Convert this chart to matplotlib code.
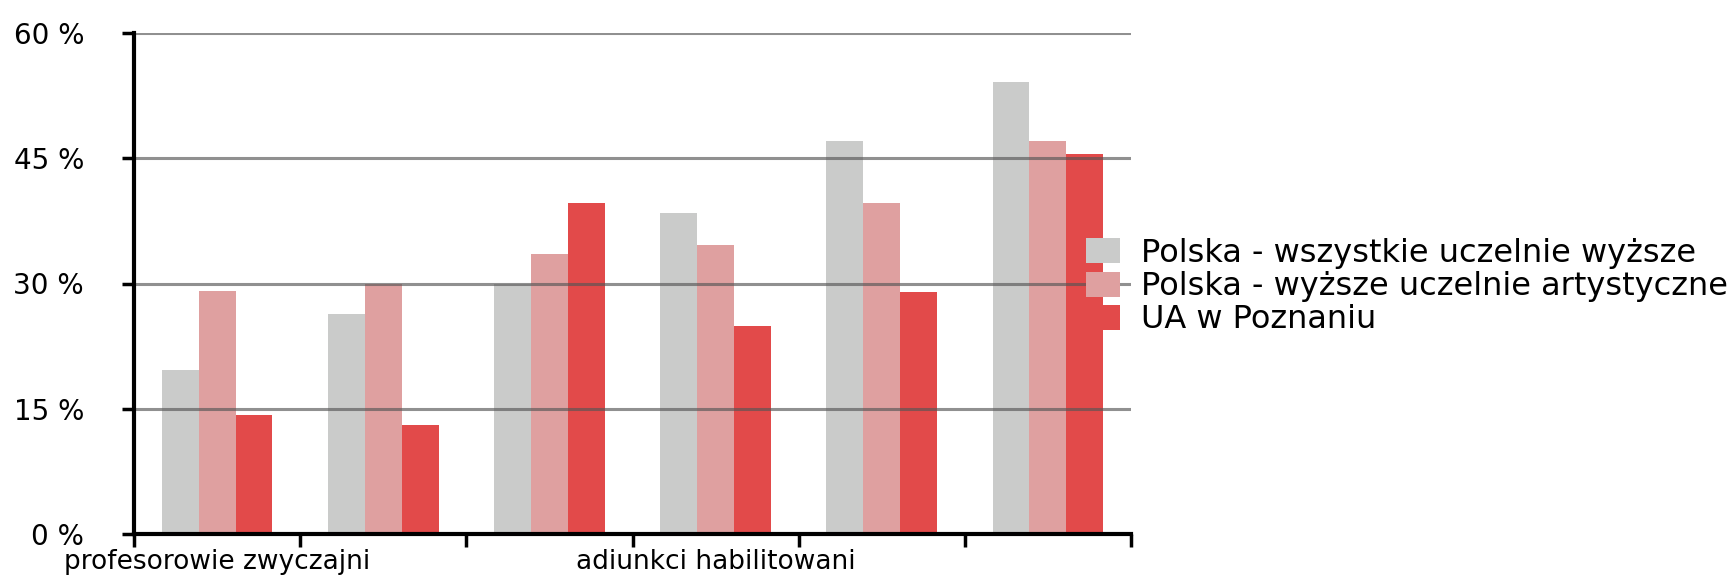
import matplotlib
matplotlib.use("Agg")
import matplotlib.pyplot as plt
import numpy as np

categories = ["profesorowie zwyczajni", "", "", "adiunkci habilitowani", "", ""]
series_names = ["Polska - wszystkie uczelnie wyższe",
                "Polska - wyższe uczelnie artystyczne",
                "UA w Poznaniu"]
polska_all = [19.7, 26.4, 30.0, 38.4, 47.1, 54.1]
polska_art = [29.1, 29.9, 33.5, 34.6, 39.6, 47.1]
ua_poznan = [14.2, 13.1, 39.7, 24.9, 29.0, 45.5]
yticks = [0, 15, 30, 45, 60]
ytick_labels = ["0 %", "15 %", "30 %", "45 %", "60 %"]

colors = ["#cacbca", "#dfa0a0", "#e24a4a"]

W, H = 1735, 582
plt.rcParams['font.family'] = ['DejaVu Sans']
fig = plt.figure(figsize=(W / 100, H / 100), dpi=100)
ax = fig.add_axes([134 / W, 1 - 534 / H, (1131 - 134) / W, (534 - 33) / H])

x = np.arange(len(categories))
w = 0.222
for i, (vals, name, c) in enumerate(zip([polska_all, polska_art, ua_poznan], series_names, colors)):
    ax.bar(x + (i - 1) * w, vals, width=w, color=c, label=name, zorder=2, linewidth=0)

ax.set_xlim(-0.5, len(categories) - 0.5)
ax.set_ylim(0, 60)

for yv in yticks[1:]:
    ax.axhline(yv, color="#555555", alpha=0.65, linewidth=2.2, zorder=3)

ax.set_yticks(yticks)
ax.set_yticklabels(ytick_labels, fontsize=20)
ax.tick_params(axis="y", length=9, width=2.5, pad=27, direction="out")

ax.set_xticks(np.arange(-0.5, len(categories), 1.0))
ax.set_xticklabels([])
ax.set_xticks(x, minor=True)
ax.set_xticklabels(categories, minor=True, fontsize=19)
ax.tick_params(axis="x", which="major", length=9, width=2.5, direction="out")
ax.tick_params(axis="x", which="minor", length=0, pad=11)

for s in ["top", "right"]:
    ax.spines[s].set_visible(False)
ax.spines["left"].set_linewidth(3)
ax.spines["bottom"].set_linewidth(3)
ax.spines["left"].set_zorder(4)
ax.spines["bottom"].set_zorder(4)

leg = fig.legend(loc="upper left", bbox_to_anchor=(1086 / W, 1 - 238 / H),
                 frameon=False, fontsize=23, handlelength=1.07, handleheight=0.82,
                 handletextpad=0.64, labelspacing=0.07, borderpad=0, borderaxespad=0)

fig.savefig("out.png", dpi=100)
